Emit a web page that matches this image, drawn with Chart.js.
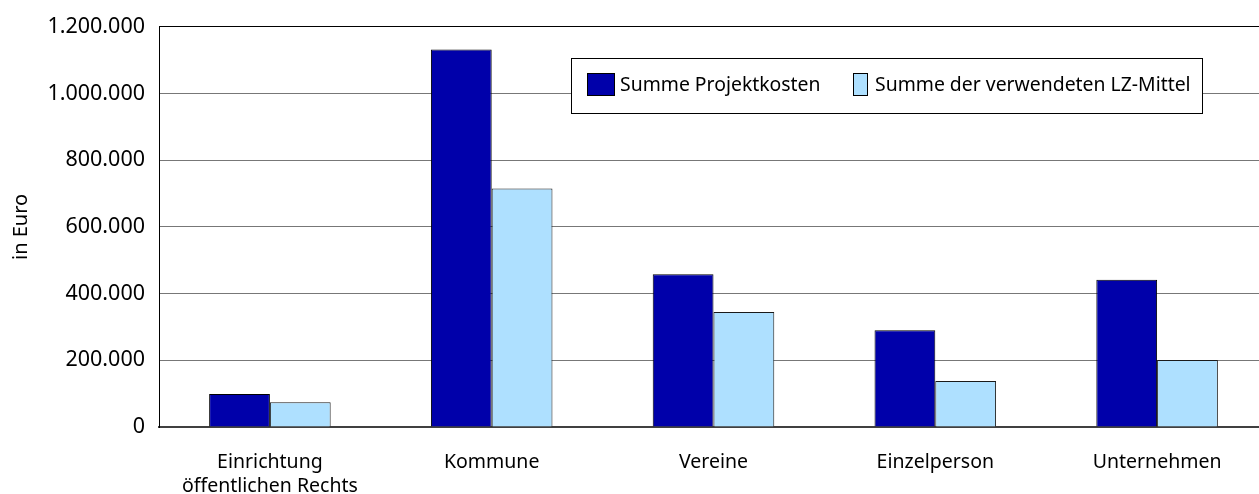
<!DOCTYPE html>
<html>
<head>
<meta charset="utf-8">
<script src="https://cdn.jsdelivr.net/npm/chart.js@4"></script>
<style>
    html, body { margin: 0; padding: 0; background: #fff; overflow: hidden; }
    #wrap { width: 1268px; height: 494px; }
</style>
</head>
<body>
<div id="wrap"><canvas id="chart" width="1268" height="494"></canvas></div>
<script>
const categories = [
    ['Einrichtung', 'öffentlichen Rechts'],
    'Kommune',
    'Vereine',
    'Einzelperson',
    'Unternehmen',
]
const seriesNames = ['Summe Projektkosten', 'Summe der verwendeten LZ-Mittel']
const projektkosten = [99000, 1132000, 458000, 290000, 442000]
const lzMittel = [74000, 715000, 345000, 138000, 201000]
const yTicks = [0, 200000, 400000, 600000, 800000, 1000000, 1200000]

const FONT = '"Noto Sans", sans-serif'
const DARK = '#0000AA'
const LIGHT = '#AEE0FF'

// legend in a framed box, drawn over the plot like the original
const boxLegend = {
    id: 'boxLegend',
    afterDraw(chart) {
        const ctx = chart.ctx
        const x = 571.5, y = 58.5, w = 631, h = 55
        ctx.save()
        ctx.fillStyle = '#fff'
        ctx.fillRect(x, y, w, h)
        ctx.strokeStyle = '#000'
        ctx.lineWidth = 1
        ctx.strokeRect(x, y, w, h)
        ctx.font = '19.4px ' + FONT
        ctx.textBaseline = 'middle'
        const swatches = [
            { sx: 587, sw: 27, tx: 620 },
            { sx: 853, sw: 14, tx: 875 },
        ]
        chart.data.datasets.forEach((ds, i) => {
            const s = swatches[i]
            ctx.fillStyle = ds.backgroundColor
            ctx.fillRect(s.sx + 0.5, 73.5, s.sw, 22)
            ctx.strokeStyle = '#000'
            ctx.strokeRect(s.sx + 0.5, 73.5, s.sw, 22)
            ctx.fillStyle = '#000'
            ctx.fillText(ds.label, s.tx, 85)
        })
        ctx.restore()
    },
}

new Chart(document.getElementById('chart'), {
    type: 'bar',
    data: {
        labels: categories,
        datasets: [
            {
                label: seriesNames[0],
                data: projektkosten,
                backgroundColor: DARK,
                borderColor: '#000',
                borderWidth: 1,
            },
            {
                label: seriesNames[1],
                data: lzMittel,
                backgroundColor: LIGHT,
                borderColor: '#1a1a1a',
                borderWidth: 1,
            },
        ],
    },
    options: {
        responsive: false,
        animation: false,
        categoryPercentage: 0.548,
        barPercentage: 1,
        layout: { padding: { top: 25, right: 0, left: 0, bottom: 0 } },
        plugins: {
            legend: { display: false },
            tooltip: { enabled: false },
        },
        scales: {
            x: {
                grid: { display: false, drawTicks: false },
                border: { display: true, color: '#404040', width: 2 },
                ticks: {
                    color: '#000',
                    font: { family: FONT, size: 19.5, lineHeight: 1.2 },
                    padding: 24,
                    maxRotation: 0,
                    autoSkip: false,
                },
                afterFit(scale) {
                    scale.height = 67
                },
            },
            y: {
                min: 0,
                max: 1200000,
                afterBuildTicks(scale) {
                    scale.ticks = yTicks.map((v) => ({ value: v }))
                },
                grid: {
                    color: (c) => (c.tick && c.tick.value === 1200000 ? '#000' : '#777'),
                    lineWidth: 1,
                    drawTicks: false,
                },
                border: { display: true, color: '#000', width: 1 },
                ticks: {
                    color: '#000',
                    font: { family: FONT, size: 21.5 },
                    padding: 14,
                    callback: (v) => Number(v).toLocaleString('de-DE'),
                },
                title: {
                    display: true,
                    text: 'in Euro',
                    color: '#000',
                    font: { family: FONT, size: 20 },
                    padding: { top: 9, bottom: 0 },
                },
                afterFit(scale) {
                    scale.width = 159
                },
            },
        },
    },
    plugins: [boxLegend],
})
</script>
</body>
</html>
